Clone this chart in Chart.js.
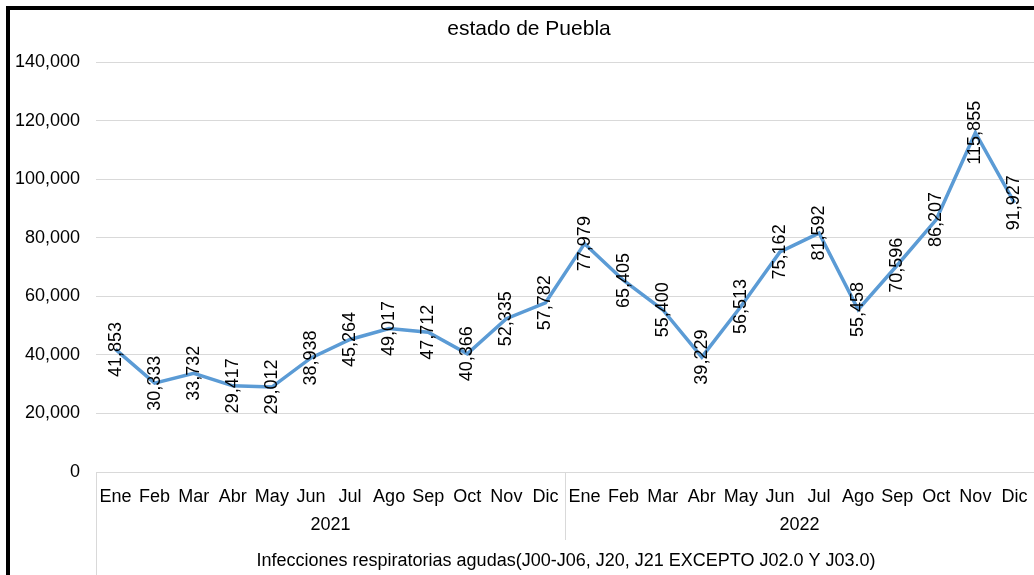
<!DOCTYPE html>
<html>
<head>
<meta charset="utf-8">
<script src="https://cdn.jsdelivr.net/npm/chart.js@4/dist/chart.umd.min.js"></script>
<style>
    html, body { margin: 0; padding: 0; background: #fff; }
    #wrap { width: 1034px; height: 575px; position: relative; }
</style>
</head>
<body>
<div id="wrap"><canvas id="grafico"></canvas></div>
<script>
// Datos
const meses = ['Ene', 'Feb', 'Mar', 'Abr', 'May', 'Jun', 'Jul', 'Ago', 'Sep', 'Oct', 'Nov', 'Dic'];
const anios = ['2021', '2022'];
const casos2021 = [41853, 30333, 33732, 29417, 29012, 38938, 45264, 49017, 47712, 40366, 52335, 57782];
const casos2022 = [77979, 65405, 55400, 39229, 56513, 75162, 81592, 55458, 70596, 86207, 115855, 91927];
const ticksY = [0, 20000, 40000, 60000, 80000, 100000, 120000, 140000];
const titulo = 'estado de Puebla';
const etiquetaEje = 'Infecciones respiratorias agudas(J00-J06, J20, J21 EXCEPTO J02.0 Y J03.0)';

const fuente = '"Liberation Sans", Arial, sans-serif';
const fmt = v => v.toLocaleString('en-US');

const etiquetas = anios.flatMap(() => meses);
const valores = casos2021.concat(casos2022);

// Marco, titulo, años y etiquetas de datos
const decoracion = {
    id: 'decoracion',
    afterDraw(chart) {
        const ctx = chart.ctx;
        const x = chart.scales.x;
        const area = chart.chartArea;
        ctx.save();

        // borde negro
        ctx.fillStyle = '#000';
        ctx.fillRect(6, 6, 1034, 4);
        ctx.fillRect(6, 6, 4, 575);

        // titulo
        ctx.font = '21px ' + fuente;
        ctx.textAlign = 'center';
        ctx.textBaseline = 'middle';
        ctx.fillText(titulo, 529, 29);

        // lineas del eje de categorias
        ctx.strokeStyle = '#d9d9d9';
        ctx.lineWidth = 1;
        ctx.beginPath();
        ctx.moveTo(Math.round(area.left) + 0.5, area.bottom);
        ctx.lineTo(Math.round(area.left) + 0.5, 575);
        const sep = (x.getPixelForValue(11) + x.getPixelForValue(12)) / 2;
        ctx.moveTo(Math.round(sep) + 0.5, area.bottom);
        ctx.lineTo(Math.round(sep) + 0.5, 540);
        ctx.stroke();

        // años
        ctx.font = '18px ' + fuente;
        ctx.fillStyle = '#000';
        anios.forEach((a, i) => {
            const c = (x.getPixelForValue(i * 12) + x.getPixelForValue(i * 12 + 11)) / 2;
            ctx.fillText(a, c, 525);
        });
        ctx.fillText(etiquetaEje, 566, 561);

        // etiquetas de datos rotadas
        const meta = chart.getDatasetMeta(0);
        meta.data.forEach((pt, i) => {
            ctx.save();
            ctx.translate(pt.x, pt.y);
            ctx.rotate(-Math.PI / 2);
            ctx.fillText(fmt(valores[i]), 0, 0);
            ctx.restore();
        });
        ctx.restore();
    }
};

new Chart(document.getElementById('grafico'), {
    type: 'line',
    data: {
        labels: etiquetas,
        datasets: [{
            data: valores,
            borderColor: '#5b9bd5',
            borderWidth: 3.5,
            pointRadius: 0,
            tension: 0,
            fill: false
        }]
    },
    options: {
        responsive: true,
        maintainAspectRatio: false,
        animation: false,
        layout: { padding: { top: 62, right: 0, left: 0, bottom: 0 } },
        plugins: {
            legend: { display: false },
            title: { display: false },
            tooltip: { enabled: false }
        },
        scales: {
            x: {
                offset: true,
                grid: { display: false, offset: true },
                border: { display: false },
                ticks: {
                    color: '#000',
                    font: { family: fuente, size: 18 },
                    autoSkip: false,
                    maxRotation: 0,
                    padding: 6
                },
                afterFit(s) { s.height = 103; }
            },
            y: {
                min: 0,
                max: 140000,
                afterBuildTicks(s) { s.ticks = ticksY.map(v => ({ value: v })); },
                grid: { color: '#d9d9d9', lineWidth: 1, drawTicks: false },
                border: { display: false },
                ticks: {
                    color: '#000',
                    font: { family: fuente, size: 18 },
                    padding: 16,
                    callback: v => fmt(v)
                },
                afterFit(s) { s.width = 96; }
            }
        }
    },
    plugins: [decoracion]
});
</script>
</body>
</html>
